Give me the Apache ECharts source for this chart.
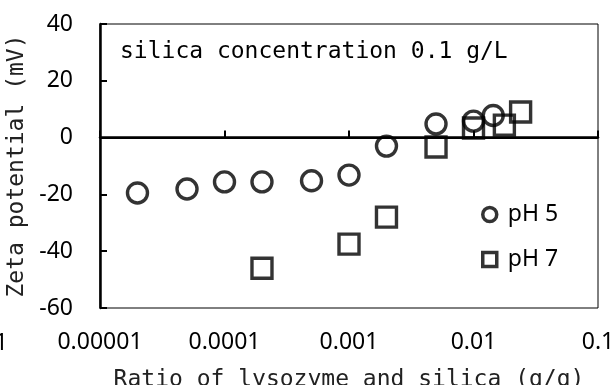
<!DOCTYPE html>
<html>
<head>
<meta charset="utf-8">
<script src="https://cdn.jsdelivr.net/npm/echarts@6/dist/echarts.min.js"></script>
<style>html,body{margin:0;padding:0;background:#fff}#c{width:615px;height:385px}</style>
</head>
<body>
<div id="c"></div>
<script>
const ratioPH5 = [0.00002, 0.00005, 0.0001, 0.0002, 0.0005, 0.001, 0.002, 0.005, 0.01, 0.0144];
const zetaPH5  = [-19.5, -18.1, -15.6, -15.6, -15.2, -13.2, -3.0, 4.8, 5.8, 7.8];
const ratioPH7 = [0.0002, 0.001, 0.002, 0.005, 0.01, 0.0177, 0.0239];
const zetaPH7  = [-46, -37.5, -28, -3.3, 3.4, 4.4, 9.0];
const seriesNames = ['pH 5', 'pH 7'];
const xTickValues = [0.00001, 0.0001, 0.001, 0.01, 0.1];
const xTickLabels = ['0.00001', '0.0001', '0.001', '0.01', '0.1'];
const xOffscreenLabel = '0.000001';
const yTickLabels = ['-60', '-40', '-20', '0', '20', '40'];
const annotation = 'silica concentration 0.1 g/L';
const xTitle = 'Ratio of lysozyme and silica (g/g)';
const yTitle = 'Zeta potential (mV)';

const monoFont = '"DejaVu Sans Mono", "Liberation Mono", monospace';
const sansFont = '"Noto Sans", "Open Sans", sans-serif';

function pairs(xs, ys) { return xs.map((x, i) => [x, ys[i]]); }

const chart = echarts.init(document.getElementById('c'), null, {renderer: 'canvas'});
const hollow = {color: 'rgba(0,0,0,0)', borderColor: '#000', borderWidth: 3.4};
chart.setOption({
  animation: false,
  backgroundColor: '#fff',
  grid: {left: 100, right: 17, top: 24, bottom: 77, containLabel: false, outerBoundsMode: 'none',
         show: true, borderColor: '#000', borderWidth: 1, backgroundColor: 'transparent'},
  xAxis: {
    type: 'log', logBase: 10, min: 0.00001, max: 0.1,
    name: xTitle, nameLocation: 'middle', nameGap: 61,
    nameTextStyle: {fontFamily: monoFont, fontSize: 23, color: '#222'},
    axisLine: {show: true, lineStyle: {color: '#000', width: 2.5}},
    axisTick: {show: true, inside: true, length: 7, lineStyle: {color: '#000', width: 2}},
    minorTick: {show: false},
    splitLine: {show: false},
    axisLabel: {
      margin: 23, fontFamily: sansFont, fontSize: 23, color: '#000',
      formatter: function (v) {
        const i = Math.round(Math.log10(v) - Math.log10(xTickValues[0]));
        return xTickLabels[i] !== undefined ? xTickLabels[i] : '';
      }
    }
  },
  yAxis: {
    type: 'value', min: -60, max: 40, interval: 20,
    name: yTitle, nameLocation: 'middle', nameGap: 60, nameRotate: 90,
    nameTextStyle: {fontFamily: monoFont, fontSize: 23, color: '#222'},
    axisLine: {show: true, lineStyle: {color: '#000', width: 2.5}},
    axisTick: {show: true, inside: true, length: 7, lineStyle: {color: '#000', width: 2}},
    splitLine: {show: false},
    axisLabel: {
      margin: 27, fontFamily: sansFont, fontSize: 23, color: '#000',
      formatter: function (v) { const i = Math.round((v + 60) / 20); return yTickLabels[i]; }
    }
  },
  legend: {
    orient: 'vertical', left: 476, top: 198, itemWidth: 14, itemHeight: 14, itemGap: 22,
    data: [{name: seriesNames[0], icon: 'circle'}, {name: seriesNames[1], icon: 'rect'}],
    itemStyle: {color: 'rgba(0,0,0,0)', borderColor: '#000', borderWidth: 3.5},
    textStyle: {fontFamily: sansFont, fontSize: 23, color: '#000', padding: [0, 0, 0, 6]}
  },
  graphic: [
    {type: 'text', left: 120, top: 41, silent: true,
     style: {text: annotation, font: '23px ' + monoFont, fill: '#000'}},
    {type: 'text', x: 8, y: 343, silent: true,
     style: {text: xOffscreenLabel, font: '23px ' + sansFont, fill: '#000', textAlign: 'right', textVerticalAlign: 'middle'}}
  ],
  series: [
    {
      name: seriesNames[0], type: 'scatter', symbol: 'circle', symbolSize: 20,
      data: pairs(ratioPH5, zetaPH5), itemStyle: hollow, z: 3,
      markLine: {silent: true, symbol: ['none', 'none'], label: {show: false},
        lineStyle: {color: '#000', width: 2, type: 'solid'}, data: [{yAxis: 0}]}
    },
    {
      name: seriesNames[1], type: 'scatter', symbol: 'rect', symbolSize: 20,
      data: pairs(ratioPH7, zetaPH7), itemStyle: hollow, z: 3
    }
  ]
});
</script>
</body>
</html>
